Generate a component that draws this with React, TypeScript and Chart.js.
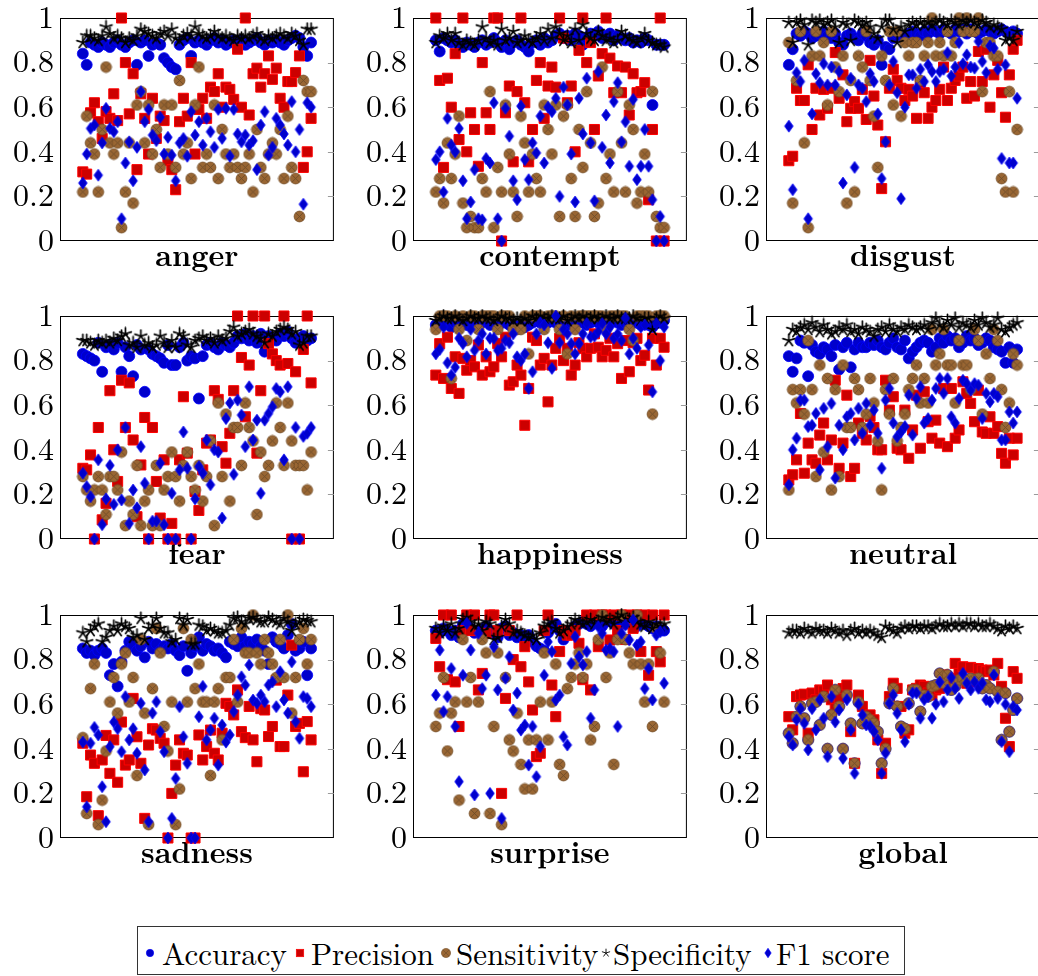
import React, { useEffect, useRef } from 'react';
import { Chart, registerables } from 'chart.js';

Chart.register(...registerables);

const FONT = "'Latin Modern Roman', 'Liberation Serif', serif";

const SERIES_NAMES = ['Accuracy', 'Precision', 'Sensitivity', 'Specificity', 'F1 score'];
const PANEL_TITLES = ['anger', 'contempt', 'disgust', 'fear', 'happiness', 'neutral', 'sadness', 'surprise', 'global'];
const Y_TICK_LABELS = ['0', '0.2', '0.4', '0.6', '0.8', '1'];

// ---------- anger ----------
const angerAccuracy = [.84,.79,.89,.88,.87,.89,.88,.87,.89,.90, .88,.87,.89,.90,.79,.89,.90,.83,.88,.89, .88,.82,.80,.78,.77,.88,.90,.91,.83,.89, .90,.89,.88,.90,.91,.89,.90,.88,.89,.90, .89,.90,.88,.89,.90,.91,.89,.88,.90,.89, .90,.89,.88,.90,.91,.92,.91,.87,.83,.89];
const angerPrecision = [.31,.30,.575,.62,.535,.46,.58,.55,.66,.54, 1.0,.80,.57,.75,.32,.66,.55,.39,.64,.46, .56,.54,.36,.32,.23,.535,.64,.56,.80,.39, .59,.64,.55,.69,.67,.75,.60,.69,.68,.635, .86,.60,1.0,.565,.75,.775,.69,.75,.83,.725, .775,.64,.60,.715,.715,.755,.83,.33,.40,.55];
const angerSensitivity = [.22,.56,.44,.39,.22,.50,.78,.44,.39,.44, .06,.22,.44,.17,.61,.67,.44,.61,.39,.50, .33,.61,.39,.61,.33,.72,.39,.44,.28,.61, .78,.33,.39,.33,.61,.28,.50,.39,.33,.39, .33,.28,.33,.39,.22,.50,.33,.28,.39,.44, .39,.50,.28,.56,.33,.28,.11,.72,.67,.67];
const angerSpecificity = [.89,.92,.92,.91,.90,.92,.96,.93,.91,.92, .91,.89,.91,.90,.92,.95,.94,.93,.92,.91, .93,.94,.92,.95,.91,.90,.92,.93,.92,.96, .93,.92,.91,.92,.94,.92,.91,.92,.91,.90, .92,.91,.92,.91,.92,.93,.91,.90,.92,.91, .92,.93,.92,.91,.93,.92,.90,.88,.95,.95];
const angerF1 = [.26,.39,.505,.52,.295,.44,.595,.505,.49,.535, .10,.35,.445,.27,.42,.67,.535,.59,.475,.45, .555,.39,.465,.385,.27,.44,.46,.38,.58,.475, .535,.43,.55,.49,.42,.59,.46,.595,.38,.59, .48,.445,.475,.43,.45,.32,.52,.58,.385,.42, .55,.52,.48,.43,.625,.40,.50,.165,.62,.60];

// ---------- contempt ----------
const contemptAccuracy = [.90,.85,.91,.90,.89,.90,.88,.87,.89,.88, .87,.89,.90,.88,.89,.91,.89,.87,.90,.86, .89,.90,.88,.87,.85,.89,.90,.88,.91,.89, .90,.92,.93,.91,.92,.90,.93,.92,.88,.91, .93,.92,.94,.91,.92,.93,.90,.92,.91,.90, .91,.89,.90,.89,.91,.90,.61,.88,.88,.88];
const contemptPrecision = [1.0,.72,.33,.73,.60,.84,.455,1.0,.40,.575, .50,.335,.80,.575,.50,1.0,1.0,0.0,.575,.695, .355,.67,1.0,.62,.355,.50,.72,.80,.55,.695, .78,.69,1.0,.91,.62,.695,.40,.855,1.0,.80, .89,.50,.74,.84,1.0,.82,.665,.785,.665,.78, .565,.75,.665,.67,.71,.185,.50,0.0,1.0,0.0];
const contemptSensitivity = [.22,.28,.17,.44,.28,.39,.56,.17,.06,.11, .06,.06,.28,.22,.67,.06,.33,.22,.61,.39, .22,.11,.56,.44,.22,.39,.28,.22,.61,.50, .39,.61,.11,.56,.61,.28,.11,.50,.33,.67, .44,.11,.17,.78,.28,.39,.22,.67,.44,.22, .61,.50,.17,.22,.39,.22,.67,.11,.06,.06];
const contemptSpecificity = [.89,.92,.91,.93,.90,.93,.89,.88,.90,.89, .88,.90,.96,.91,.89,.90,.88,.95,.90,.91, .94,.89,.90,.92,.90,.89,.91,.93,.90,.95, .91,.96,.93,.90,.92,.89,.95,.90,.97,.93, .91,.90,.94,.92,.90,.91,.89,.90,.94,.92, .91,.90,.89,.91,.93,.90,.89,.88,.88,.87];
const contemptF1 = [.365,.40,.22,.55,.43,.40,.505,.27,.10,.175, .32,.10,.095,.37,.35,.62,.10,0,.595,.47, .27,.185,.605,.365,.275,.44,.395,.56,.35,.60, .58,.64,.20,.69,.61,.39,.175,.64,.48,.73, .44,.18,.76,.42,.565,.35,.625,.71,.445,.535, .335,.635,.275,.335,.50,.335,.185,0,.11,0];

// ---------- disgust ----------
const disgustAccuracy = [.79,.86,.93,.92,.94,.93,.91,.92,.93,.94, .92,.91,.93,.89,.88,.92,.93,.91,.90,.93, .92,.89,.88,.90,.79,.87,.86,.91,.93,.92, .90,.93,.94,.93,.92,.94,.93,.95,.94,.93, .95,.94,.93,.95,.94,.95,.93,.95,.94,.93, .94,.95,.94,.93,.94,.95,.94,.93,.94,.93];
const disgustPrecision = [.36,.38,.685,.63,.63,.79,.50,.685,.565,.68, .595,.685,.845,.64,.745,.535,.595,.625,.595,.68, .545,.81,.65,.52,.235,.445,.685,.77,.72,.685, .63,.68,.65,.55,.71,.665,.55,.60,.63,.68, .78,.63,.685,.72,.74,.78,.64,.715,.65,.85, .715,.86,.60,.745,.81,.665,.555,.745,.86,.90];
const disgustSensitivity = [.89,.17,.72,.94,.44,.06,.83,.94,.83,.89, .61,.94,.78,.67,.83,.17,.72,.22,.83,.78, .94,.72,.56,.33,.83,.72,.94,.61,.94,.56, .89,.83,.89,.89,.72,.83,.89,1.0,.83,.89, .83,.94,.83,.89,1.0,.94,1.0,.94,.94,1.0, .67,.89,.89,.83,.83,.28,.22,.67,.22,.50];
const disgustSpecificity = [.98,.89,.98,.99,.97,.88,.99,.98,.99,.97, .98,.99,.96,.89,.98,.97,.90,.99,.98,.97, .98,.96,.93,.91,.96,.99,.99,.95,.89,.96, .94,.97,.98,.97,.98,.97,.98,.97,.98,.99, .98,.97,.99,.98,.97,.99,.98,.99,.98,.97, .99,.98,.96,.97,.96,.95,.90,.91,.90,.94];
const disgustF1 = [.515,.23,.755,.715,.81,.10,.57,.75,.71,.795, .70,.78,.70,.76,.26,.655,.73,.33,.70,.685, .625,.75,.715,.57,.28,.445,.70,.805,.665,.19, .60,.745,.745,.685,.77,.715,.79,.76,.715,.76, .77,.845,.74,.78,.89,.795,.835,.78,.775,.895, .805,.755,.875,.865,.77,.37,.79,.35,.35,.64];

// ---------- fear ----------
const fearAccuracy = [.83,.82,.81,.80,.88,.75,.86,.87,.85,.88, .75,.86,.82,.73,.87,.85,.66,.85,.83,.82, .81,.79,.87,.78,.78,.86,.88,.80,.82,.81, .63,.82,.87,.88,.86,.85,.88,.87,.86,.88, .91,.90,.92,.89,.91,.88,.92,.84,.91,.90, .89,.92,.91,.93,.90,.88,.90,.91,.89,.90];
const fearPrecision = [.317,.31,.377,0,.50,.086,.16,.665,.40,.258, .712,.50,.70,.444,.10,.332,.545,0,.50,.258, .094,.355,0,.07,0,.355,.638,.385,0,.213, .128,.31,.43,.444,.665,.626,.414,.34,.474,.665, 1.0,.814,.548,.78,1.0,.385,.665,1.0,.876,.83, .80,.78,1.0,.787,0,.75,0,.85,1.0,.70];
const fearSensitivity = [.28,.22,.17,.22,.28,.22,.11,.28,.28,.22, .39,.06,.17,.11,.33,.06,.17,.22,.06,.33, .06,.22,.28,.39,.28,.17,.33,.39,.28,.22, .33,.17,.28,.44,.06,.61,.28,.56,.17,.50, .50,.33,.61,.50,.44,.11,.39,.28,.33,.44, .61,.50,.33,.61,.44,.33,.33,.33,.22,.39];
const fearSpecificity = [.89,.89,.88,.87,.89,.88,.89,.88,.90,.89, .91,.92,.87,.88,.86,.91,.87,.88,.86,.87, .91,.88,.86,.89,.86,.92,.91,.87,.86,.89, .90,.91,.89,.90,.88,.91,.89,.90,.93,.95, .91,.92,.93,.94,.92,.91,.90,.88,.92,.91, .93,.94,.95,.94,.92,.93,.87,.88,.91,.91];
const fearF1 = [.295,.235,.19,0,.355,.064,.18,.33,.155,.40, .175,.50,.07,.22,.14,.414,.25,0,.08,.08, .34,.064,0,.205,0,.31,.48,.317,0,.18, .325,.295,.444,.243,.40,.39,.094,.54,.61,.29, .623,.556,.414,.683,.444,.533,.205,.533,.563,.593, .675,.66,.355,.683,0,.50,0,.46,.474,.50];

// ---------- happiness ----------
const happinessAccuracy = [.96,.97,.96,.97,.95,.97,.96,.98,.96,.97, .97,.96,.97,.98,.96,.97,.96,.97,.97,.96, .96,.95,.96,.95,.96,.97,.98,.97,.96,.97, .98,.97,.97,.96,.96,.97,.97,.98,.97,.96, .97,.98,.97,.96,.97,.97,.98,.97,.96,.97, .96,.97,.97,.96,.97,.96,.95,.97,.97,.98];
const happinessPrecision = [.735,.876,.72,.905,.675,.817,.653,.81,.757,.80, .772,.87,.735,.817,.75,.772,.876,.817,.905,.69, .705,.78,.735,.51,.675,.905,.89,.78,.81,.615, .78,.855,.90,.80,.855,.735,.78,.88,.855,.817, .855,.92,.86,.817,.846,.90,.817,.876,.72,.89, .75,.88,.90,.80,.824,.668,.90,.78,.90,.86];
const happinessSensitivity = [.94,1,1,1,.72,1,.94,1,.89,1, 1,.94,1,1,1,1,.94,1,1,1, .94,.94,.94,1,.83,1,1,1,.94,1, 1,1,.94,1,.83,1,.94,1,1,1, 1,1,1,1,.94,1,1,1,1,1, .94,.89,1,1,1,1,.56,1,1,1];
const happinessSpecificity = [.98,.99,1,.99,.99,1,.99,.98,.99,1, .99,.99,1,.99,.99,.98,.99,1,.99,.99, .98,.99,.98,.99,.98,1,.99,1,.99,.99, 1,.99,.99,1,.98,.99,1,.99,1,.99, .99,1,.99,.99,1,.99,.99,1,.99,.99, .99,1,.99,.98,.99,.99,.94,.99,1,.99];
const happinessF1 = [.83,.85,.95,.79,.735,.77,.90,.876,.817,.94, .846,.89,.92,.83,.90,.90,.846,.855,.89,.88, .92,.817,.80,.83,.675,.75,.92,.97,.96,.88, .765,1.0,.88,.94,.92,.876,.83,.876,.92,.966, .906,.91,.93,.966,.92,.95,.90,.92,.89,.99, .83,.90,.855,.95,.96,.87,.66,.966,.80,.95];

// ---------- neutral ----------
const neutralAccuracy = [.82,.75,.81,.89,.88,.73,.87,.84,.83,.86, .85,.82,.87,.76,.86,.88,.77,.85,.88,.86, .86,.88,.87,.89,.86,.85,.88,.90,.86,.85, .89,.81,.84,.86,.88,.89,.88,.84,.86,.90, .88,.91,.89,.90,.86,.88,.91,.89,.90,.87, .88,.90,.89,.86,.85,.84,.79,.86,.79,.85];
const neutralPrecision = [.265,.288,.355,.563,.295,.43,.355,.34,.466,.52, .355,.444,.712,.317,.43,.645,.28,.317,.52,.474, .444,.55,.50,.40,.40,.712,.578,.638,.407,.40, .578,.362,.489,.645,.407,.66,.526,.452,.533,.43, .675,.414,.675,.452,.489,.705,.653,.608,.526,.667, .48,.474,.548,.474,.504,.384,.34,.452,.377,.452];
const neutralSensitivity = [.22,.67,.61,.67,.56,.89,.67,.28,.78,.39, .72,.22,.67,.28,.78,.50,.50,.72,.67,.50, .56,.72,.61,.44,.22,.67,.56,.72,.44,.50, .56,.67,.72,.78,.61,.72,.61,.94,.78,.83, .94,.78,.78,.61,.89,.78,.78,.67,.94,.89, .56,.83,.72,.94,.89,.67,.50,.61,.83,.78];
const neutralSpecificity = [.89,.94,.93,.95,.96,.94,.97,.95,.93,.96, .94,.92,.93,.95,.94,.96,.93,.94,.92,.95, .94,.93,.91,.94,.95,.93,.96,.94,.93,.95, .94,.96,.95,.94,.95,.96,.94,.97,.99,.96, .95,.98,.96,.99,.95,.97,.96,.95,.98,.96, .99,.97,.95,.96,.99,.94,.93,.95,.96,.97];
const neutralF1 = [.243,.40,.452,.623,.623,.504,.51,.563,.31,.586, .414,.608,.273,.51,.40,.548,.563,.444,.586,.474, .608,.51,.578,.474,.317,.623,.675,.52,.459,.48, .504,.645,.466,.63,.683,.52,.54,.623,.675,.72, .653,.72,.548,.52,.63,.712,.697,.667,.697,.69, .54,.653,.615,.653,.638,.444,.444,.57,.52,.57];

// ---------- sadness ----------
const sadnessAccuracy = [.85,.83,.84,.82,.84,.85,.83,.73,.78,.68, .79,.84,.88,.86,.84,.86,.81,.88,.85,.87, .84,.86,.85,.87,.84,.82,.86,.75,.83,.86, .90,.84,.87,.86,.84,.85,.83,.81,.88,.87, .86,.90,.86,.88,.87,.89,.86,.84,.78,.90, .88,.87,.85,.91,.96,.84,.85,.88,.73,.85];
const sadnessPrecision = [.425,.185,.372,.335,.10,.35,.46,.29,.44,.25, .52,.327,.35,.626,.454,.335,.088,.417,.49,.484, .447,.425,0,.20,.327,.44,.38,.372,0,0, .462,.35,.41,.484,.38,.35,.47,.604,.59,.552, .664,.477,.45,.59,.44,.342,.58,.574,.455,.50, .708,.41,.41,.641,.865,.50,.514,.297,.522,.44];
const sadnessSensitivity = [.45,.11,.67,.78,.06,.17,.39,.61,.72,.56, .78,.83,.61,.72,.28,.89,.56,.06,.67,.94, .83,.50,.39,.61,.06,.22,.94,.61,.89,.67, .78,.61,.61,.28,.61,.67,.44,.72,.72,.89, .61,.94,.83,.83,1.0,.83,.78,.89,.83,.78, .72,.89,.72,1.0,.56,.72,.89,.94,.78,.89];
const sadnessSpecificity = [.92,.88,.93,.95,.96,.88,.90,.93,.95,.93, .96,.95,.94,.90,.91,.985,.89,.94,.955,.985, .94,.92,.92,.88,.89,.985,.955,.98,.87,.87, .955,.95,.93,.94,.93,.92,.92,.93,.955,.985, .99,.97,.96,.985,.99,.98,.97,.97,.99,.98, .97,.96,.985,.97,.93,.96,.97,.98,.975,.97];
const sadnessF1 = [.43,.14,.425,.496,.462,.23,.073,.41,.52,.49, .387,.634,.44,.49,.38,.604,.305,.073,.56,.611, .477,.387,0,.088,.267,.589,.454,.335,0,0, .544,.68,.44,.484,.537,.327,.507,.43,.462,.567, .64,.723,.686,.776,.619,.604,.641,.611,.686,.70, .589,.746,.619,.56,.79,.522,.447,.634,.626,.589];

// ---------- surprise ----------
const surpriseAccuracy = [.93,.92,.94,.93,.91,.93,.90,.96,.95,.94, .92,.93,.91,.95,.93,.92,.90,.94,.95,.91, .92,.90,.91,.89,.91,.88,.86,.85,.84,.92, .95,.96,.93,.89,.91,.92,.95,.96,.97,.96, .95,.97,.96,.95,.97,.98,.96,.95,.97,.96, .98,.96,.95,.97,.96,.95,.94,.95,.93,.93];
const surprisePrecision = [.895,.768,1.0,.71,1.0,.70,.50,.93,1.0,.93, 1.0,.664,.738,.918,1.0,1.0,.93,.20,.626,.93, .80,1.0,.768,.858,.70,.574,.365,.38,.93,1.0, .686,.544,.836,.93,.91,.91,.93,.873,.71,1.0, .664,1.0,.858,1.0,1.0,.888,1.0,.93,1.0,.89, 1.0,.94,1.0,.836,1.0,.73,1.0,.836,.79,1.0];
const surpriseSensitivity = [.50,.56,.72,.39,.56,.61,.17,.89,.61,.72, .11,.61,.89,.83,.11,.50,.83,.06,.72,.44, .39,.56,.33,.22,.44,.22,.44,.61,.83,.44, .61,.78,.33,.28,.67,.72,.78,.83,.72,.78, .44,.50,.89,1.0,.72,.83,.33,.89,1.0,.89, .83,.78,1.0,.78,.61,.78,.50,.94,.83,.61];
const surpriseSpecificity = [.94,.92,.95,.93,.96,.92,.94,.98,.99,.97, .95,.96,.93,.97,.96,.89,.90,.95,.98,.96, .92,.93,.92,.91,.90,.91,.89,.92,.95,.96, .97,.94,.92,.93,.95,.96,.98,.97,.96,.97, .98,.96,.97,.99,.97,.98,.96,.99,1.0,.97, .98,.99,.97,.96,.95,.97,.94,.96,.95,.96];
const surpriseF1 = [.641,.843,.567,.634,.76,.50,.253,.73,.963,.843, .193,.918,.67,.73,.20,.858,.664,.088,.716,.813, .574,.65,.484,.507,.327,.50,.275,.41,.73,.88, .836,.619,.641,.454,.417,.783,.903,.813,.776,.836, .537,.664,.948,.918,.843,.85,.836,.50,.918,.955, .888,.978,.865,.88,.67,.76,.619,.91,.925,.694];

// ---------- global ----------
const globalAccuracy = [.47,.425,.544,.59,.537,.44,.604,.61,.507,.634, .40,.552,.664,.59,.40,.641,.514,.335,.61,.514, .544,.53,.514,.477,.335,.40,.604,.671,.59,.50, .49,.604,.664,.664,.567,.64,.634,.68,.686,.738, .694,.731,.664,.68,.709,.716,.70,.716,.709,.716, .671,.686,.671,.746,.656,.44,.65,.477,.574,.626];
const globalPrecision = [.544,.485,.634,.641,.645,.47,.65,.62,.664,.66, .686,.62,.58,.63,.67,.686,.477,.335,.641,.59, .514,.552,.53,.44,.29,.425,.634,.694,.671,.59, .47,.485,.664,.671,.686,.68,.65,.641,.664,.671, .731,.709,.716,.783,.738,.768,.694,.765,.70,.76, .753,.746,.753,.731,.783,.68,.537,.41,.746,.716];
const globalSensitivity = [.47,.425,.544,.59,.537,.44,.604,.61,.507,.634, .40,.552,.664,.59,.40,.641,.514,.335,.61,.514, .544,.53,.514,.477,.335,.40,.604,.671,.59,.50, .49,.604,.664,.664,.567,.64,.634,.68,.686,.738, .694,.731,.664,.68,.709,.716,.70,.716,.709,.716, .671,.686,.671,.746,.656,.44,.65,.477,.574,.626];
const globalSpecificity = [.92,.93,.93,.92,.94,.93,.92,.94,.93,.93, .92,.94,.93,.92,.93,.91,.93,.94,.92,.93, .92,.93,.92,.91,.90,.95,.94,.93,.92,.94, .95,.94,.95,.95,.94,.95,.95,.94,.95,.96, .95,.95,.96,.95,.96,.95,.96,.96,.95,.96, .95,.95,.96,.95,.94,.93,.95,.94,.95,.94];
const globalF1 = [.455,.417,.53,.58,.514,.395,.58,.485,.62,.537, .365,.634,.52,.574,.357,.62,.485,.29,.60,.552, .507,.50,.477,.44,.29,.38,.604,.641,.559,.485, .432,.60,.65,.65,.537,.62,.634,.537,.60,.70, .611,.664,.72,.671,.626,.738,.694,.664,.70,.671, .694,.62,.611,.731,.626,.432,.60,.387,.589,.574];

const PANEL_SERIES = [
  [angerAccuracy, angerPrecision, angerSensitivity, angerSpecificity, angerF1],
  [contemptAccuracy, contemptPrecision, contemptSensitivity, contemptSpecificity, contemptF1],
  [disgustAccuracy, disgustPrecision, disgustSensitivity, disgustSpecificity, disgustF1],
  [fearAccuracy, fearPrecision, fearSensitivity, fearSpecificity, fearF1],
  [happinessAccuracy, happinessPrecision, happinessSensitivity, happinessSpecificity, happinessF1],
  [neutralAccuracy, neutralPrecision, neutralSensitivity, neutralSpecificity, neutralF1],
  [sadnessAccuracy, sadnessPrecision, sadnessSensitivity, sadnessSpecificity, sadnessF1],
  [surpriseAccuracy, surprisePrecision, surpriseSensitivity, surpriseSpecificity, surpriseF1],
  [globalAccuracy, globalPrecision, globalSensitivity, globalSpecificity, globalF1],
];

// ---------- layout (page pixels) ----------
const COL_LEFT = [60, 413, 766];
const ROW_TOP = [18, 316, 615];
const PLOT_W = 276;
const PLOT_H = 223;
const AXIS_W = 60;
const PAD_TOP = 22;
const PAD_RIGHT = 6;
const BOTTOM_H = 45;
const CW = AXIS_W + PLOT_W + PAD_RIGHT;
const CH = PAD_TOP + PLOT_H + BOTTOM_H;
const X_MIN = -5.9;
const X_MAX = 64.9;

// ---------- markers ----------
let markerCache: any = null;
function makeCanvas(w: number, h: number, draw: (c: CanvasRenderingContext2D) => void) {
  const cv = document.createElement('canvas');
  cv.width = w; cv.height = h;
  const c = cv.getContext('2d')!;
  draw(c);
  return cv;
}
function getMarkers() {
  if (markerCache) return markerCache;
  const otimes = makeCanvas(13, 13, (c) => {
    c.beginPath(); c.arc(6.5, 6.5, 5.4, 0, Math.PI * 2);
    c.fillStyle = '#996633'; c.fill();
    c.strokeStyle = '#734D26'; c.lineWidth = 0.8; c.stroke();
    const d = 5.4 * Math.SQRT1_2;
    c.beginPath();
    c.moveTo(6.5 - d, 6.5 - d); c.lineTo(6.5 + d, 6.5 + d);
    c.moveTo(6.5 - d, 6.5 + d); c.lineTo(6.5 + d, 6.5 - d);
    c.strokeStyle = '#6b4a2a'; c.lineWidth = 0.8; c.stroke();
  });
  const star = makeCanvas(15, 15, (c) => {
    c.beginPath();
    for (let k = 0; k < 5; k++) {
      const a = -Math.PI / 2 + (k * 2 * Math.PI) / 5;
      c.moveTo(7.5, 7.5); c.lineTo(7.5 + 6.2 * Math.cos(a), 7.5 + 6.2 * Math.sin(a));
    }
    c.strokeStyle = '#000'; c.lineWidth = 1.7; c.lineCap = 'round'; c.stroke();
  });
  const diamond = makeCanvas(12, 14, (c) => {
    c.beginPath();
    c.moveTo(6, 1.1); c.lineTo(10.3, 7); c.lineTo(6, 12.9); c.lineTo(1.7, 7); c.closePath();
    c.fillStyle = '#0000CC'; c.fill();
    c.strokeStyle = '#0000FF'; c.lineWidth = 0.8; c.stroke();
  });
  markerCache = { otimes, star, diamond };
  return markerCache;
}

function seriesStyle(k: number, m: any) {
  switch (k) {
    case 0: return { pointStyle: 'circle', pointRadius: 5.5, backgroundColor: '#0000CC', borderColor: '#0000FF', pointBorderWidth: 0.8 };
    case 1: return { pointStyle: 'rect', pointRadius: 7.1, backgroundColor: '#CC0000', borderColor: '#FF0000', pointBorderWidth: 1 };
    case 2: return { pointStyle: m.otimes, pointRadius: 5.4, backgroundColor: '#996633', borderColor: '#734D26', pointBorderWidth: 0 };
    case 3: return { pointStyle: m.star, pointRadius: 6.2, backgroundColor: '#000', borderColor: '#000', pointBorderWidth: 0 };
    default: return { pointStyle: m.diamond, pointRadius: 5.8, backgroundColor: '#0000CC', borderColor: '#0000FF', pointBorderWidth: 0 };
  }
}

function Panel({ idx }: { idx: number }) {
  const ref = useRef<HTMLCanvasElement>(null);
  useEffect(() => {
    const m = getMarkers();
    const title = PANEL_TITLES[idx];
    const series = PANEL_SERIES[idx];
    const datasets = series.map((vals, k) => ({
      label: SERIES_NAMES[k],
      data: vals.map((v, i) => ({ x: i, y: v })),
      order: 5 - k,
      clip: false as any,
      showLine: false,
      ...seriesStyle(k, m),
    }));
    const framePlugin = {
      id: 'frame' + idx,
      beforeDatasetsDraw(chart: any) {
        const { ctx, chartArea: a } = chart;
        ctx.save();
        ctx.strokeStyle = '#000';
        ctx.lineWidth = 1;
        ctx.strokeRect(a.left + 0.5, a.top + 0.5, a.right - a.left - 1, a.bottom - a.top - 1);
        const ys = chart.scales.y;
        ctx.strokeStyle = '#9a9a9a';
        ys.ticks.forEach((t: any) => {
          if (t.value <= 0 || t.value >= 1) return;
          const py = Math.round(ys.getPixelForValue(t.value)) + 0.5;
          ctx.beginPath();
          ctx.moveTo(a.right - 6, py);
          ctx.lineTo(a.right, py);
          ctx.stroke();
        });
        ctx.fillStyle = '#000';
        ctx.font = `bold 30px ${FONT}`;
        ctx.textAlign = 'center';
        ctx.textBaseline = 'alphabetic';
        ctx.fillText(title, (a.left + a.right) / 2, a.bottom + 25);
        ctx.restore();
      },
    };
    const chart = new Chart(ref.current!, {
      type: 'scatter',
      data: { datasets: datasets as any },
      options: {
        animation: false,
        responsive: false,
        devicePixelRatio: 1,
        events: [],
        layout: { padding: { top: PAD_TOP, right: PAD_RIGHT, left: 0, bottom: 0 } },
        plugins: { legend: { display: false }, tooltip: { enabled: false }, title: { display: false } },
        scales: {
          x: {
            type: 'linear', min: X_MIN, max: X_MAX,
            ticks: { display: false },
            grid: { display: false, drawTicks: false },
            border: { display: false },
            afterFit: (s: any) => { s.height = BOTTOM_H; },
          },
          y: {
            min: 0, max: 1,
            ticks: {
              stepSize: 0.2, autoSkip: false, padding: 6, color: '#000',
              font: { family: FONT, size: 32, lineHeight: 1 },
              callback: (v: any) => Y_TICK_LABELS[Math.round(Number(v) * 5)],
            },
            grid: { display: false, drawTicks: false },
            border: { display: false },
            afterFit: (s: any) => { s.width = AXIS_W; },
          },
        },
      } as any,
      plugins: [framePlugin],
    });
    return () => chart.destroy();
  }, [idx]);
  const r = Math.floor(idx / 3);
  const c = idx % 3;
  return (
    <canvas
      ref={ref}
      width={CW}
      height={CH}
      style={{ position: 'absolute', left: COL_LEFT[c] - AXIS_W, top: ROW_TOP[r] - PAD_TOP, width: CW, height: CH }}
    />
  );
}

function LegendMarker({ k, cx, cy }: { k: number; cx: number; cy: number }) {
  if (k === 0) return <circle cx={cx} cy={cy} r="3.7" fill="#0000CC" stroke="#0000FF" strokeWidth="0.6" />;
  if (k === 1) return <rect x={cx - 3.7} y={cy - 3.7} width="7.4" height="7.4" fill="#CC0000" stroke="#FF0000" strokeWidth="0.7" />;
  if (k === 2) return (
    <g>
      <circle cx={cx} cy={cy} r="4.6" fill="#996633" stroke="#734D26" strokeWidth="0.6" />
      <path d={`M${cx - 3.25} ${cy - 3.25} L${cx + 3.25} ${cy + 3.25} M${cx - 3.25} ${cy + 3.25} L${cx + 3.25} ${cy - 3.25}`} stroke="#6b4a2a" strokeWidth="0.6" />
    </g>
  );
  if (k === 3) {
    const d = [0, 1, 2, 3, 4].map((j) => {
      const a = -Math.PI / 2 + (j * 2 * Math.PI) / 5;
      return `M${cx} ${cy} L${cx + 4.3 * Math.cos(a)} ${cy + 4.3 * Math.sin(a)}`;
    }).join(' ');
    return <path d={d} stroke="#000" strokeWidth="0.9" fill="none" />;
  }
  return <path d={`M${cx} ${cy - 4.8} L${cx + 3.2} ${cy} L${cx} ${cy + 4.8} L${cx - 3.2} ${cy} Z`} fill="#0000CC" stroke="#0000FF" strokeWidth="0.6" />;
}

const LEGEND_MARKER_X = [12, 162, 308, 468, 630];
const LEGEND_TEXT_X = [24, 173, 318, 475, 638];

function Legend() {
  return (
    <div style={{ position: 'absolute', left: 137, top: 926, width: 768, height: 49, border: '1px solid #333', boxSizing: 'border-box', background: '#fff' }}>
      <svg width="766" height="47" style={{ position: 'absolute', left: 0, top: 0 }}>
        {SERIES_NAMES.map((name, k) => (
          <g key={name}>
            <LegendMarker k={k} cx={LEGEND_MARKER_X[k]} cy={26} />
            <text x={LEGEND_TEXT_X[k]} y={38} fontFamily={FONT} fontSize="31" fill="#000">{name}</text>
          </g>
        ))}
      </svg>
    </div>
  );
}

export default function App() {
  return (
    <div style={{ position: 'absolute', left: 0, top: 0, width: 1038, height: 976, overflow: 'hidden', background: '#fff' }}>
      {PANEL_TITLES.map((t, i) => <Panel key={t} idx={i} />)}
      <Legend />
    </div>
  );
}
